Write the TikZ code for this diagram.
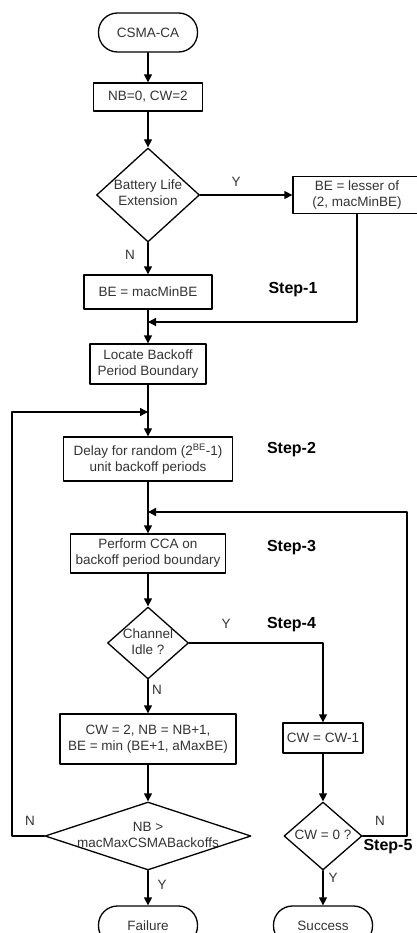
\documentclass[tikz,border=0pt]{standalone}
\usepackage{fontspec}
\setmainfont{Liberation Sans}
\usetikzlibrary{shapes.geometric,arrows.meta}

% text inside a diamond, kept from growing the shape
\newcommand{\dlabel}[1]{\smash{\raisebox{-3.4pt}{\makebox[0pt]{\begin{tabular}{@{}c@{}}#1\end{tabular}}}}}

\begin{document}
\begin{tikzpicture}[x=1pt, y=-1pt, line cap=round, line join=round,
  every node/.style={font=\fontsize{13.5}{16}\selectfont, text=black!80},
  proc/.style={draw, line width=1.3pt, align=center, inner sep=1pt},
  term/.style={draw, line width=1.3pt, rounded corners=19pt, minimum width=99pt, minimum height=39pt},
  dec/.style={draw, diamond, line width=1.3pt, inner sep=0pt},
  steplbl/.style={font=\fontsize{16}{19}\selectfont\bfseries, text=black},
  flow/.style={line width=1.3pt, -{Triangle[length=8pt,width=8pt]}}]

\useasboundingbox (0,0) rectangle (417,933);

% --- Nodes ---
\node[term] (start) at (148,32.5) {CSMA-CA};
\node[proc, minimum width=109pt, minimum height=28pt] (init) at (148,97) {NB=0, CW=2};
\node[dec, minimum width=103pt, minimum height=94pt] (batt) at (148,195) {\dlabel{Battery Life\\Extension}};
\node[proc, minimum width=128pt, minimum height=37pt] (lesser) at (357,195) {BE = lesser of\\(2, macMinBE)};
\node[proc, minimum width=128pt, minimum height=34pt] (minbe) at (148,292) {BE = macMinBE};
\node[proc, minimum width=116pt, minimum height=40pt] (locate) at (148,364) {Locate Backoff\\Period Boundary};
\node[proc, minimum width=169pt, minimum height=44pt] (delay) at (148,459) {Delay for random (2\textsuperscript{BE}-1)\\unit backoff periods};
\node[proc, minimum width=155pt, minimum height=39pt] (cca) at (148,553.5) {Perform CCA on\\backoff period boundary};
\node[dec, minimum width=81pt, minimum height=72pt] (idle) at (148,643) {\dlabel{Channel\\Idle ?}};
\node[proc, minimum width=176pt, minimum height=50pt] (update) at (148,739) {CW = 2, NB = NB+1,\\BE = min (BE+1, aMaxBE)};
\node[proc, minimum width=80pt, minimum height=30pt] (cwdec) at (323,738) {CW = CW-1};
\node[dec, minimum width=206pt, minimum height=68pt] (nbmax) at (148,836) {\dlabel{NB >\\macMaxCSMABackoffs}};
\node[dec, minimum width=78pt, minimum height=68pt] (cwzero) at (323,836) {\dlabel{CW = 0 ?}};
\node[term] (fail) at (148,925.5) {Failure};
\node[term] (succ) at (323,925.5) {Success};

% --- Coordinates ---
\coordinate (merge1) at (148,322);
\coordinate (merge2) at (148,412);
\coordinate (merge3) at (148,512);
\coordinate (lcorner) at (12,836);
\coordinate (rcorner) at (407,836);

% --- Connectors ---
\draw[flow] (start) -- (init);
\draw[flow] (init) -- (batt);
\draw[flow] (batt) -- (lesser);
\draw[flow] (batt) -- (minbe);
\draw[flow] (minbe) -- (locate);
\draw[flow] (lesser.south) |- (merge1);
\draw[flow] (locate) -- (delay);
\draw[flow] (nbmax.west) -- (lcorner) |- (merge2);
\draw[flow] (delay) -- (cca);
\draw[flow] (cwzero.east) -- (rcorner) |- (merge3);
\draw[flow] (cca) -- (idle);
\draw[flow] (idle.east) -| (cwdec.north);
\draw[flow] (idle) -- (update);
\draw[flow] (update) -- (nbmax);
\draw[flow] (cwdec) -- (cwzero);
\draw[flow] (nbmax) -- (fail);
\draw[flow] (cwzero) -- (succ);

% --- Labels ---
\node (yes1) at (236,182) {Y};
\node (no1) at (130,255) {N};
\node (yes2) at (226,624) {Y};
\node (no2) at (157,690) {N};
\node (no3) at (30,821) {N};
\node (no4) at (380,821) {N};
\node (yes3) at (162,885) {Y};
\node (yes4) at (333,878) {Y};

\node[steplbl] (step1) at (293,290) {Step-1};
\node[steplbl] (step2) at (291.5,450) {Step-2};
\node[steplbl] (step3) at (291.5,548) {Step-3};
\node[steplbl] (step4) at (291.5,625) {Step-4};
\node[steplbl] (step5) at (388,847) {Step-5};

\end{tikzpicture}
\end{document}
